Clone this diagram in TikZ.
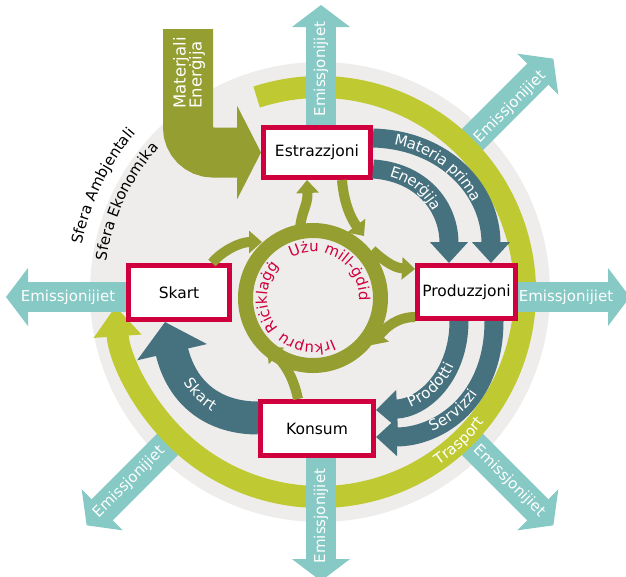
\documentclass[tikz,border=0pt]{standalone}
\usepackage{fontspec}
\setmainfont{DejaVu Sans}
\usetikzlibrary{arrows.meta,decorations.text}
\definecolor{grayC}{HTML}{EFEDEC}
\definecolor{limeC}{HTML}{BFCA33}
\definecolor{oliveC}{HTML}{949E31}
\definecolor{tealD}{HTML}{46717F}
\definecolor{tealL}{HTML}{86C9C5}
\definecolor{redC}{HTML}{D0003F}
\newcommand{\fbig}{\fontsize{15.5}{17}\selectfont}
\newcommand{\fmid}{\fontsize{15}{16}\selectfont}
\newcommand{\fsm}{\fontsize{15}{16}\selectfont}
\begin{document}
\begin{tikzpicture}[x=1pt,y=-1pt,
  emis/.style={tealL, line width=30pt, -{Triangle[width=57pt,length=22pt]}},
  emtext/.style={text=white, font=\fmid, inner sep=0pt},
  box/.style={draw=redC, line width=5pt, fill=white, font=\fbig, inner sep=0pt},
  flow/.style={tealD, line width=19pt, -{Triangle[width=37pt,length=21pt]}},
  rec/.style={oliveC, line width=10pt, -{Triangle[width=22pt,length=13pt]}},
  curvtext/.style={decorate, decoration={text along path, text color=#1, text align=center}},
]
\useasboundingbox (0,0) rectangle (626,576);
\coordinate (C) at (320,292);
\coordinate (R) at (313,298);
% grey sphere
\fill[grayC] (C) circle (230);
% diagonal emissions
\path (C) ++(-45:212) coordinate (ne1) ++(-45:118) coordinate (ne2);
\path (C) ++(45:212) coordinate (se1) ++(45:118) coordinate (se2);
\path (C) ++(135:212) coordinate (sw1) ++(135:118) coordinate (sw2);
\draw[emis] (ne1) -- (ne2);
\draw[emis] (se1) -- (se2);
\draw[emis] (sw1) -- (sw2);
% transport ring
\draw[limeC, line width=22pt, -{Triangle[width=46pt,length=30pt]}] (C) ++(-108:205) arc[start angle=-108, end angle=176, radius=205];
% boxes
\node[box, minimum width=107pt, minimum height=50pt] (est) at (317,152.5) {Estrazzjoni};
\node[box, minimum width=98pt, minimum height=53pt] (pro) at (466.5,292) {Produzzjoni};
\node[box, minimum width=113pt, minimum height=54pt] (kon) at (317,428.5) {Konsum};
\node[box, minimum width=101pt, minimum height=54pt] (ska) at (179,292.5) {Skart};
% straight emissions
\coordinate (eT) at (321,5);
\coordinate (eB) at (321,581);
\coordinate (eR) at (630,297);
\coordinate (eL) at (6,297);
\draw[emis] (est.north -| eT) -- (eT);
\draw[emis] (kon.south -| eB) -- (eB);
\draw[emis] (pro.east |- eR) -- (eR);
\draw[emis] (ska.west |- eL) -- (eL);
\node[emtext, rotate=90] (t1) at (321,69) {Emissjonijiet};
\node[emtext, rotate=90] (t2) at (321,516) {Emissjonijiet};
\node[emtext] (t3) at (566,297) {Emissjonijiet};
\node[emtext] (t4) at (68,297) {Emissjonijiet};
\node[emtext, rotate=45] (t5) at (510,107) {Emissjonijiet};
\node[emtext, rotate=-45] (t6) at (509,481) {Emissjonijiet};
\node[emtext, rotate=45] (t7) at (129,482) {Emissjonijiet};
% materials / energy input
\draw[oliveC, line width=50pt, rounded corners=25pt, -{Triangle[width=93pt,length=24pt]}] (188,29) |- (est.west);
\node[rotate=90, text=white, align=left, font=\fontsize{16.5}{16}\selectfont, inner sep=0pt] (mat) at (189,73) {Materjali\\Enerġija};
% economic flows
\draw[flow] ([yshift=-13pt]est.north east) .. controls +(72,2) and +(0,-73) .. ([xshift=-27pt]pro.north east);
\draw[flow] ([yshift=-44pt]est.north east) .. controls +(47,3) and +(0,-58) .. ([xshift=34pt]pro.north west);
\draw[flow] ([xshift=-59pt]pro.south east) .. controls +(0,54) and +(48,-2) .. ([yshift=-11pt]kon.north east);
\draw[flow] ([xshift=-24pt]pro.south east) .. controls +(0,79) and +(64,0) .. ([yshift=-38pt]kon.north east);
\draw[tealD, line width=33pt, -{Triangle[width=70pt,length=31pt]}] ([yshift=-19pt]kon.north west) .. controls +(-43,0) and +(17,73) .. ([xshift=-14pt]ska.south);
% labels on flows
\path[decorate, decoration={text along path, text color=white, text={|\fmid|Materia prima}, text align={left, left indent=22pt}, raise=-5pt}] (373,138) .. controls (445,140) and (491,190) .. (491,263);
\path[decorate, decoration={text along path, text color=white, text={|\fmid|Enerġija}, text align={left, left indent=18pt}, raise=-5pt}] (373,169) .. controls (420,172) and (449,205) .. (449,263);
\path[decorate, decoration={text along path, text color=white, text={|\fmid|Prodotti}, text align={left, left indent=33pt}, raise=-5pt}] (376,410) .. controls (424,408) and (459,375) .. (459,321);
\path[decorate, decoration={text along path, text color=white, text={|\fmid|Servizzi}, text align={left, left indent=55pt}, raise=-5pt}] (376,437) .. controls (440,437) and (494,400) .. (494,321);
\path[decorate, decoration={text along path, text color=white, text={|\fmid|Skart}, text align={left, left indent=62pt}, raise=-5pt}] (165,322) .. controls (182,395) and (215,418) .. (258,418);
\path[curvtext=white, decoration={text={|\fmid|Trasport}}] (C) ++(70:210) arc[start angle=70, end angle=24, radius=210];
% spheres
\path[curvtext=black, decoration={text={|\fmid|Sfera Ambjentali}}] (C) ++(-186:243) arc[start angle=-186, end angle=-122, radius=243];
\path[curvtext=black, decoration={text={|\fmid|Sfera Ekonomika}}] (C) ++(-193:216) arc[start angle=-193, end angle=-117, radius=216];
% recycling ring
\draw[oliveC, line width=15pt] (R) circle (67.5);
\draw[rec] (300,228) .. controls (302,210) and (308,205) .. ([xshift=-10pt]est.south);
\draw[rec] ([xshift=25pt]est.south) .. controls +(2,25) and +(-12,-16) .. (364,236);
\draw[rec] (372,250) .. controls (385,262) and (395,268) .. ([yshift=-6pt]pro.north west);
\draw[rec] ([yshift=4pt]pro.south west) .. controls +(-18,0) and +(13,-17) .. (372,345);
\draw[rec] ([xshift=-19pt]kon.north) .. controls +(-5,-24) and +(16,15) .. (267,347);
\draw[rec] ([xshift=33pt]ska.north) .. controls +(10,-12) and +(-22,0) .. (262,242);
\path[curvtext=redC, decoration={text={|\fsm|Użu mill-ġdid}}] (R) ++(-145:46) arc[start angle=-145, end angle=31, radius=46];
\path[curvtext=redC, decoration={text={|\fsm|Irkupru}}] (R) ++(45:46) arc[start angle=45, end angle=151, radius=46];
\path[curvtext=redC, decoration={text={|\fsm|Riċiklaġġ}}] (R) ++(130:46) arc[start angle=130, end angle=232, radius=46];
\end{tikzpicture}
\end{document}
